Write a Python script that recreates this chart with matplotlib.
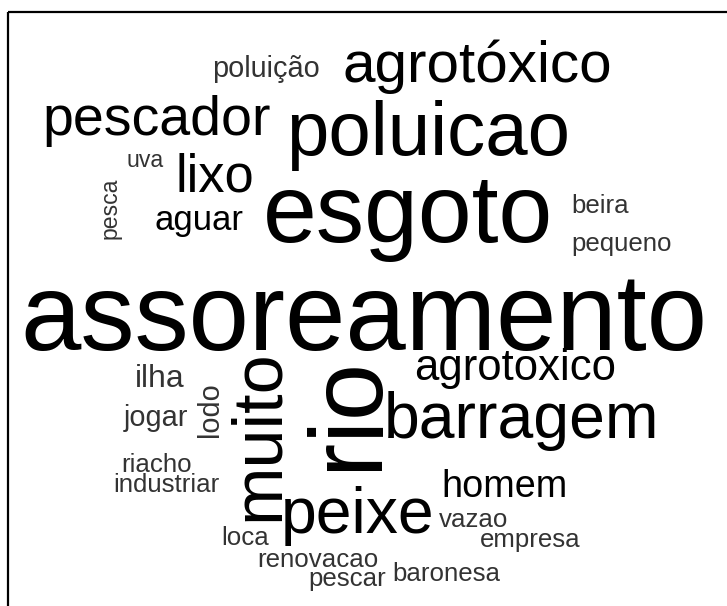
import matplotlib
matplotlib.use('Agg')
import matplotlib.pyplot as plt
from matplotlib.patches import Rectangle

# ========== Word frequencies ==========
words = ['assoreamento', 'rio', 'esgoto', 'poluicao', 'muito', 'peixe',
         'barragem', 'agrotóxico', 'pescador', 'lixo', 'agrotoxico', 'homem',
         'aguar', 'ilha', 'jogar', 'lodo', 'poluição', 'beira', 'pequeno',
         'riacho', 'industriar', 'vazao', 'loca', 'empresa', 'renovacao',
         'pescar', 'baronesa', 'uva', 'pesca']
counts = [30, 28, 26, 19, 17, 15,
          15, 13, 12, 11, 8, 6,
          5, 4, 3, 3, 3, 2, 2,
          2, 2, 2, 2, 2, 2,
          2, 2, 1, 1]

# ========== Layout (pixel coords: word centre / baseline, rotation) ==========
layout = {
    'assoreamento': (364, 350, 0),
    'rio':          (376, 413, 90),
    'esgoto':       (408, 242, 0),
    'poluicao':     (428, 155, 0),
    'muito':        (278, 435, 90),
    'peixe':        (358, 533, 0),
    'barragem':     (522, 438, 0),
    'agrotóxico':   (477, 82, 0),
    'pescador':     (157, 135, 0),
    'lixo':         (215, 192, 0),
    'agrotoxico':   (515, 380, 0),
    'homem':        (505, 497, 0),
    'aguar':        (199, 230, 0),
    'ilha':         (160, 387, 0),
    'jogar':        (156, 426, 0),
    'lodo':         (218, 410, 90),
    'poluição':     (266, 77, 0),
    'beira':        (600, 213, 0),
    'pequeno':      (622, 251, 0),
    'riacho':       (157, 472, 0),
    'industriar':   (166, 492, 0),
    'vazao':        (474, 527, 0),
    'loca':         (245, 545, 0),
    'empresa':      (530, 547, 0),
    'renovacao':    (318, 567, 0),
    'pescar':       (347, 586, 0),
    'baronesa':     (446, 581, 0),
    'uva':          (145, 167, 0),
    'pesca':        (117, 208, 90),
}

W, H = 727, 606
DPI = 100
MIN_EM, STEP_EM = 23, 2.95  # pixel em size for count 1, growth per count

plt.rcParams['font.family'] = ['Liberation Sans', 'DejaVu Sans']

fig = plt.figure(figsize=(W / DPI, H / DPI), dpi=DPI)
ax = fig.add_axes([0, 0, 1, 1])
ax.set_xlim(0, W)
ax.set_ylim(H, 0)
ax.axis('off')

# frame (only the top and left edges are visible in the crop)
ax.add_patch(Rectangle((8, 12), W + 20, H + 20, fill=False,
                       edgecolor='black', linewidth=1.6))

for word, c in zip(words, counts):
    x, y, rot = layout[word]
    em_px = MIN_EM + STEP_EM * (c - 1)
    color = 'black' if c >= 5 else '#333333'
    ax.text(x, y, word, fontsize=em_px * 72 / DPI, color=color,
            ha='center', va='baseline', rotation=rot,
            rotation_mode='anchor')

fig.savefig('out.png', dpi=DPI)
